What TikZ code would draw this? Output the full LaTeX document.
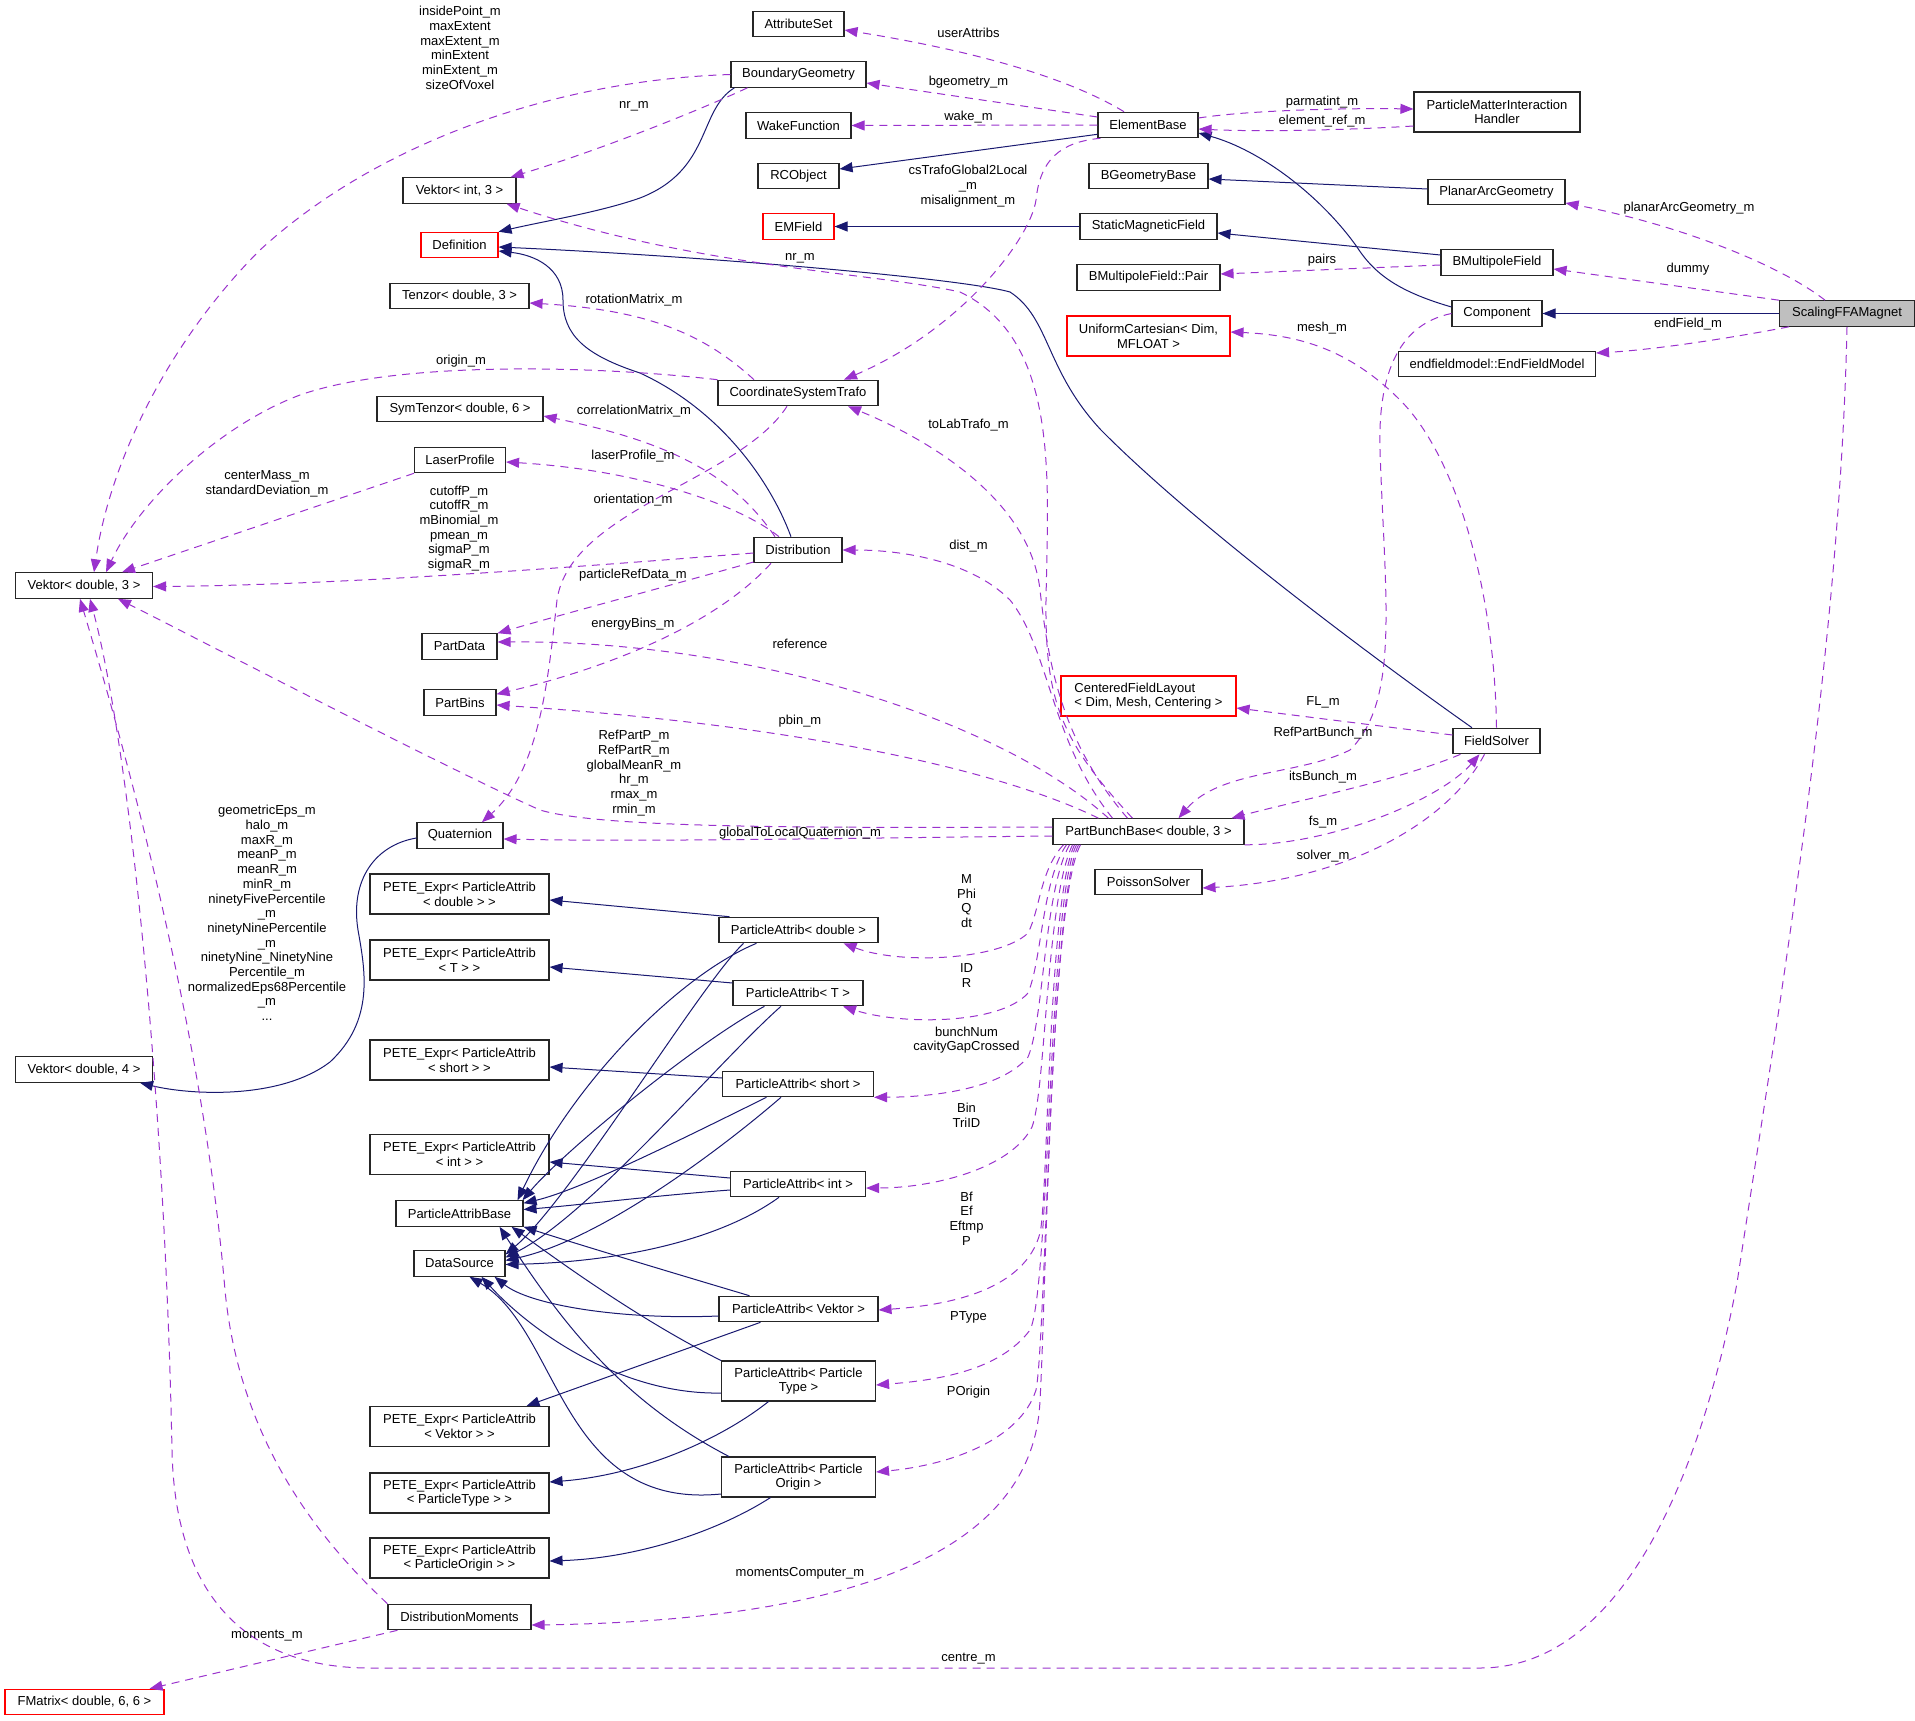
\documentclass[tikz,border=0pt]{standalone}
\usepackage{fontspec}
\setmainfont{Liberation Sans}
\usetikzlibrary{arrows.meta}
\definecolor{usepurple}{HTML}{9A32CD}
\definecolor{inheritblue}{HTML}{191970}
\definecolor{maingrey}{HTML}{BFBFBF}

\begin{document}
\begin{tikzpicture}[
  x=1pt, y=-1pt,
  >={Triangle[length=13pt,width=10pt]},
  font=\fontsize{13}{14.7}\selectfont,
  cls/.style={draw=black!85, fill=white, line width=1.1pt, minimum height=25.5pt, inner xsep=3pt, inner ysep=2pt},
  clstwo/.style={cls, align=center, minimum height=40pt},
  clsred/.style={cls, draw=red},
  clsredtwo/.style={clsred, minimum height=40pt},
  clsmain/.style={cls, fill=maingrey},
  uses/.style={->, draw=usepurple, line width=1pt, dash pattern=on 8pt off 6pt},
  inherit/.style={->, draw=inheritblue, line width=1pt},
  lbl/.style={align=center, inner sep=0pt}
]
\useasboundingbox (0,0) rectangle (1915,1721);

\node[cls, minimum width=113pt] (vecint) at (459.5,190.5) {Vektor< int, 3 >};
\node[clsred, minimum width=77pt] (definition) at (459.5,245) {Definition};
\node[cls, minimum width=139pt] (tenzor) at (459.5,296) {Tenzor< double, 3 >};
\node[cls, minimum width=166pt] (symtenzor) at (460,409) {SymTenzor< double, 6 >};
\node[cls, minimum width=91pt] (laserprofile) at (460,460) {LaserProfile};
\node[cls, minimum width=75pt] (partdata) at (459.5,646.5) {PartData};
\node[cls, minimum width=72pt] (partbins) at (460,702.5) {PartBins};
\node[cls, minimum width=86pt] (quaternion) at (460,835.5) {Quaternion};
\node[clstwo, minimum width=179pt] (petedouble) at (459.5,894) {PETE\_Expr< ParticleAttrib\\< double > >};
\node[clstwo, minimum width=179pt] (petet) at (459.5,960) {PETE\_Expr< ParticleAttrib\\< T > >};
\node[clstwo, minimum width=179pt] (peteshort) at (459.5,1060) {PETE\_Expr< ParticleAttrib\\< short > >};
\node[clstwo, minimum width=179pt] (peteint) at (459.5,1154.5) {PETE\_Expr< ParticleAttrib\\< int > >};
\node[cls, minimum width=127pt] (attribbase) at (459.5,1213.5) {ParticleAttribBase};
\node[cls, minimum width=91pt] (datasource) at (459.5,1263.5) {DataSource};
\node[clstwo, minimum width=179pt] (petevektor) at (459.5,1426.5) {PETE\_Expr< ParticleAttrib\\< Vektor > >};
\node[clstwo, minimum width=179pt] (petetype) at (459.5,1493) {PETE\_Expr< ParticleAttrib\\< ParticleType > >};
\node[clstwo, minimum width=179pt] (peteorigin) at (459.5,1558) {PETE\_Expr< ParticleAttrib\\< ParticleOrigin > >};
\node[cls, minimum width=143pt] (distmoments) at (459.5,1617) {DistributionMoments};

\node[cls, minimum width=137pt] (vekdthree) at (84,585.5) {Vektor< double, 3 >};
\node[cls, minimum width=137pt] (vekdfour) at (84,1069.5) {Vektor< double, 4 >};
\node[clsred, minimum width=159pt] (fmatrix) at (84.5,1702) {FMatrix< double, 6, 6 >};

\node[cls, minimum width=91pt] (attributeset) at (798.5,24) {AttributeSet};
\node[cls, minimum width=135pt] (boundarygeom) at (798.5,74.5) {BoundaryGeometry};
\node[cls, minimum width=105pt] (wakefunction) at (798.5,125.5) {WakeFunction};
\node[cls, minimum width=81pt] (rcobject) at (798.5,176) {RCObject};
\node[clsred, minimum width=71pt] (emfield) at (798.5,226.5) {EMField};
\node[cls, minimum width=160pt] (cstrafo) at (798,393) {CoordinateSystemTrafo};
\node[cls, minimum width=88pt] (distribution) at (798,550) {Distribution};
\node[cls, minimum width=159pt] (padouble) at (798.5,930) {ParticleAttrib< double >};
\node[cls, minimum width=130pt] (pat) at (798,993) {ParticleAttrib< T >};
\node[cls, minimum width=151pt] (pashort) at (798,1084) {ParticleAttrib< short >};
\node[cls, minimum width=135pt] (paint) at (798,1184) {ParticleAttrib< int >};
\node[cls, minimum width=159pt] (pavektor) at (798.5,1309) {ParticleAttrib< Vektor >};
\node[clstwo, minimum width=154pt] (patype) at (798.5,1381) {ParticleAttrib< Particle\\Type >};
\node[clstwo, minimum width=154pt] (paorigin) at (798.5,1477) {ParticleAttrib< Particle\\Origin >};

\node[cls, minimum width=100pt] (elementbase) at (1148,125) {ElementBase};
\node[cls, minimum width=119pt] (bgeombase) at (1148.5,176) {BGeometryBase};
\node[cls, minimum width=137pt] (staticmag) at (1148.5,226.5) {StaticMagneticField};
\node[cls, minimum width=143pt] (bmpair) at (1148.5,277.5) {BMultipoleField::Pair};
\node[clsredtwo, align=center, minimum width=163pt] (unicart) at (1148.5,336) {UniformCartesian< Dim,\\MFLOAT >};
\node[clsredtwo, align=left, minimum width=175pt] (cfl) at (1148.5,696) {CenteredFieldLayout\\< Dim, Mesh, Centering >};
\node[cls, minimum width=191pt] (partbunch) at (1148.5,831.5) {PartBunchBase< double, 3 >};
\node[cls, minimum width=107pt] (poisson) at (1148.5,882) {PoissonSolver};

\node[clstwo, minimum width=166pt] (pmih) at (1497,112) {ParticleMatterInteraction\\Handler};
\node[cls, minimum width=137pt] (planararc) at (1496.5,192) {PlanarArcGeometry};
\node[cls, minimum width=112pt] (bmultipole) at (1497,262.5) {BMultipoleField};
\node[cls, minimum width=90pt] (component) at (1497,313.5) {Component};
\node[cls, minimum width=197pt] (endfield) at (1497,364) {endfieldmodel::EndFieldModel};
\node[cls, minimum width=87pt] (fieldsolver) at (1496.5,741) {FieldSolver};
\node[clsmain, minimum width=135pt] (magnet) at (1847,313.5) {ScalingFFAMagnet};

\draw[inherit] ([xshift=4pt]boundarygeom.south west) .. controls (698,110) and (712,170) .. (640,198) .. controls (600,212) and (550,220) .. (definition.north east);
\draw[inherit] ([yshift=4pt]elementbase.south west) -- ([yshift=7pt]rcobject.east);
\draw[inherit] ([yshift=3pt]planararc.west) -- ([yshift=-3pt]bgeombase.east);
\draw[inherit] (staticmag.west) -- (emfield.east);
\draw[inherit] ([yshift=7.5pt]bmultipole.west) -- ([yshift=-6.5pt]staticmag.east);
\draw[inherit] ([yshift=6.5pt]component.west) .. controls (1400,292) and (1375,275) .. (1357,247) .. controls (1320,195) and (1260,150) .. ([yshift=-8pt]elementbase.east);
\draw[inherit] (magnet.west) -- (component.east);
\draw[inherit] ([xshift=-24.5pt]fieldsolver.north) .. controls (1390,670) and (1200,530) .. (1101,430) .. controls (1045,370) and (1050,318) .. (1010,292) .. controls (960,278) and (700,256) .. ([yshift=-2pt]definition.east);
\draw[inherit] ([xshift=-7pt]distribution.north) .. controls (770,480) and (720,410) .. (640,373) .. controls (585,355) and (563,335) .. (563,300) .. controls (563,268) and (535,255) .. ([yshift=-6pt]definition.east);
\draw[inherit] ([yshift=-2.5pt]quaternion.west) .. controls (375,845) and (350,880) .. (358,930) .. controls (365,970) and (375,1020) .. (330,1062) .. controls (280,1100) and (190,1095) .. ([xshift=-13pt]vekdfour.south east);

\draw[inherit] ([xshift=11pt]padouble.north west) -- ([yshift=-6pt]petedouble.east);
\draw[inherit] ([xshift=-42pt]padouble.south) .. controls (680,975) and (575,1080) .. ([xshift=-6pt]attribbase.north east);
\draw[inherit] ([xshift=-55pt]padouble.south) .. controls (700,985) and (570,1200) .. ([yshift=9pt]datasource.east);
\draw[inherit] ([yshift=10pt]pat.west) -- ([yshift=-7pt]petet.east);
\draw[inherit] ([xshift=-33.5pt]pat.south) .. controls (700,1040) and (565,1150) .. ([xshift=-1pt]attribbase.north east);
\draw[inherit] ([xshift=-17pt]pat.south) .. controls (720,1060) and (590,1215) .. ([yshift=6pt]datasource.east);
\draw[inherit] ([yshift=6pt]pashort.west) -- ([yshift=-7pt]peteshort.east);
\draw[inherit] ([xshift=-31.5pt]pashort.south) .. controls (680,1140) and (580,1190) .. ([yshift=-3pt]attribbase.north east);
\draw[inherit] ([xshift=-17pt]pashort.south) .. controls (720,1150) and (600,1240) .. ([yshift=3pt]datasource.east);
\draw[inherit] ([yshift=6pt]paint.west) -- ([yshift=-7.5pt]peteint.east);
\draw[inherit] ([yshift=-6pt]paint.west) .. controls (650,1196) and (580,1205) .. ([yshift=4pt]attribbase.east);
\draw[inherit] ([xshift=-19pt]paint.south) .. controls (720,1240) and (620,1262) .. ([yshift=-1pt]datasource.east);
\draw[inherit] ([xshift=-38pt]pavektor.south) -- ([xshift=-23pt]petevektor.north east);
\draw[inherit] ([yshift=-7pt]pavektor.west) .. controls (620,1320) and (530,1305) .. ([xshift=-11pt]datasource.south east);
\draw[inherit] ([xshift=31pt]pavektor.north west) .. controls (680,1275) and (580,1245) .. (attribbase.south east);
\draw[inherit] ([xshift=-30pt]patype.south) .. controls (720,1440) and (640,1475) .. ([yshift=11pt]petetype.east);
\draw[inherit] (patype.north west) .. controls (640,1320) and (560,1262) .. ([xshift=-12pt]attribbase.south east);
\draw[inherit] ([yshift=-12pt]patype.west) .. controls (620,1395) and (530,1330) .. ([xshift=-24pt]datasource.south east);
\draw[inherit] ([xshift=-28pt]paorigin.south) .. controls (720,1530) and (640,1558) .. ([yshift=-3pt]peteorigin.east);
\draw[inherit] ([xshift=8pt]paorigin.north west) .. controls (620,1400) and (560,1320) .. ([xshift=-24pt]attribbase.south east);
\draw[inherit] ([yshift=-17pt]paorigin.west) .. controls (560,1510) and (560,1330) .. ([xshift=-36pt]datasource.south east);

\draw[uses] ([xshift=-24pt]elementbase.north) .. controls (1080,85) and (1000,55) .. ([yshift=-6pt]attributeset.east);
\draw[uses] ([yshift=8pt]elementbase.west) -- ([yshift=-8.5pt]boundarygeom.east);
\draw[uses] (elementbase.west) -- (wakefunction.east);
\draw[uses] ([yshift=7pt]elementbase.east) .. controls (1250,110) and (1350,108) .. ([yshift=3pt]pmih.west);
\draw[uses] ([yshift=-14pt]pmih.west) .. controls (1350,130) and (1260,132) .. ([yshift=-4pt]elementbase.east);
\draw[uses] ([xshift=3pt]elementbase.south west) .. controls (1060,142) and (1040,160) .. (1036,200) .. controls (1030,240) and (960,330) .. ([xshift=46pt]cstrafo.north);
\draw[uses] ([xshift=17pt]boundarygeom.south west) .. controls (700,110) and (600,150) .. ([xshift=-6pt]vecint.north east);
\draw[uses] (boundarygeom.west) .. controls (560,80) and (380,140) .. (260,250) .. controls (170,340) and (110,460) .. ([xshift=10pt]vekdthree.north);
\draw[uses] (cstrafo.north west) .. controls (600,366) and (400,360) .. (300,395) .. controls (220,425) and (140,500) .. ([xshift=22pt]vekdthree.north);
\draw[uses] ([xshift=-44pt]cstrafo.north) .. controls (705,335) and (650,310) .. ([yshift=-7pt]tenzor.east);
\draw[uses] ([xshift=-11pt]cstrafo.south) .. controls (740,480) and (570,510) .. (557,600) .. controls (548,680) and (540,770) .. ([xshift=22pt]quaternion.north);
\draw[uses] ([xshift=-23pt]distribution.north) .. controls (730,470) and (660,440) .. ([yshift=-7pt]symtenzor.east);
\draw[uses] ([xshift=-19pt]distribution.north) .. controls (740,505) and (640,470) .. ([yshift=-2pt]laserprofile.east);
\draw[uses] ([yshift=-3pt]distribution.west) .. controls (600,565) and (350,585) .. ([yshift=-1pt]vekdthree.east);
\draw[uses] ([yshift=-12pt]distribution.west) .. controls (690,580) and (560,615) .. (partdata.north east);
\draw[uses] ([xshift=-27pt]distribution.south) .. controls (720,620) and (620,665) .. ([yshift=-5pt]partbins.north east);
\draw[uses] (laserprofile.south west) -- ([xshift=38pt]vekdthree.north);
\draw[uses] ([xshift=-36pt]partbunch.north) .. controls (1050,740) and (1050,650) .. (1010,600) .. controls (970,560) and (900,550) .. (distribution.east);
\draw[uses] ([xshift=-40pt]partbunch.north) .. controls (1000,720) and (750,640) .. ([yshift=4.5pt]partdata.east);
\draw[uses] ([xshift=-50pt]partbunch.north) .. controls (1000,770) and (800,725) .. ([yshift=-2.5pt]partbins.east);
\draw[uses] ([yshift=4.5pt]partbunch.west) .. controls (800,828) and (600,828) .. (540,810) .. controls (450,770) and (200,640) .. ([xshift=34pt]vekdthree.south);
\draw[uses] ([yshift=-4.5pt]partbunch.west) .. controls (850,838) and (650,842) .. ([yshift=-3.5pt]quaternion.east);
\draw[uses] ([xshift=-21pt]partbunch.north) .. controls (1060,740) and (1048,660) .. (1040,590) .. controls (1030,500) and (930,440) .. ([xshift=50pt]cstrafo.south);
\draw[uses] ([xshift=-16pt]partbunch.north) .. controls (1060,740) and (1045,700) .. (1046,600) .. controls (1048,480) and (1060,340) .. (960,292) .. controls (870,272) and (700,268) .. ([xshift=-10pt]vecint.south east);
\draw[uses] (component.west) .. controls (1395,325) and (1378,380) .. (1380,450) .. controls (1385,600) and (1400,700) .. (1350,750) .. controls (1300,775) and (1220,770) .. ([xshift=30pt]partbunch.north);
\draw[uses] ([xshift=-36pt]fieldsolver.south) .. controls (1400,780) and (1300,800) .. ([xshift=83pt]partbunch.north);
\draw[uses] (partbunch.south east) .. controls (1330,845) and (1440,800) .. ([xshift=-17pt]fieldsolver.south);
\draw[uses] ([xshift=-12pt]fieldsolver.south) .. controls (1450,820) and (1350,880) .. ([yshift=-6pt]poisson.east);
\draw[uses] ([yshift=6pt]fieldsolver.west) -- ([yshift=-12pt]cfl.east);
\draw[uses] (fieldsolver.north) .. controls (1495,600) and (1460,460) .. (1400,400) .. controls (1350,350) and (1300,335) .. ([yshift=4pt]unicart.east);
\draw[uses] ([yshift=-2.5pt]bmultipole.west) -- ([yshift=3.5pt]bmpair.east);
\draw[uses] ([xshift=-22pt]magnet.north) .. controls (1780,265) and (1680,225) .. ([yshift=-11pt]planararc.east);
\draw[uses] (magnet.north west) -- ([yshift=-6.5pt]bmultipole.east);
\draw[uses] ([xshift=10pt]magnet.south west) .. controls (1720,340) and (1650,350) .. ([yshift=11pt]endfield.east);
\draw[uses] (magnet.south) .. controls (1840,650) and (1780,1000) .. (1737,1283) .. controls (1700,1480) and (1620,1668) .. (1480,1668) -- (370,1668) .. controls (250,1668) and (175,1600) .. (172,1450) .. controls (165,1100) and (130,750) .. ([xshift=6pt]vekdthree.south);
\draw[uses] (distmoments.north west) .. controls (330,1550) and (240,1450) .. (225,1290) .. controls (200,1000) and (110,700) .. ([xshift=-4pt]vekdthree.south);
\draw[uses] ([xshift=10pt]distmoments.south west) -- ([xshift=-15pt]fmatrix.north east);

\draw[uses] ([xshift=-85pt]partbunch.south) .. controls (1040,870) and (1040,910) .. (1028,933) .. controls (1000,960) and (900,965) .. ([xshift=45pt]padouble.south);
\draw[uses] ([xshift=-82pt]partbunch.south) .. controls (1042,880) and (1042,960) .. (1028,993) .. controls (1000,1025) and (900,1025) .. ([xshift=45pt]pat.south);
\draw[uses] ([xshift=-79pt]partbunch.south) .. controls (1044,890) and (1044,1020) .. (1028,1057) .. controls (1000,1090) and (930,1097) .. (pashort.south east);
\draw[uses] ([xshift=-76pt]partbunch.south) .. controls (1046,900) and (1046,1090) .. (1032,1127) .. controls (1010,1170) and (930,1188) .. ([yshift=-4pt]paint.east);
\draw[uses] ([xshift=-74pt]partbunch.south) .. controls (1048,900) and (1048,1200) .. (1040,1233) .. controls (1025,1290) and (950,1305) .. ([yshift=-1pt]pavektor.east);
\draw[uses] ([xshift=-72pt]partbunch.south) .. controls (1048,900) and (1050,1290) .. (1030,1330) .. controls (1000,1370) and (940,1380) .. ([yshift=-4pt]patype.east);
\draw[uses] ([xshift=-70pt]partbunch.south) .. controls (1050,900) and (1046,1340) .. (1036,1390) .. controls (1020,1440) and (950,1465) .. ([yshift=5pt]paorigin.east);
\draw[uses] ([xshift=-68pt]partbunch.south) .. controls (1050,900) and (1046,1300) .. (1040,1400) .. controls (1035,1530) and (900,1620) .. ([yshift=-8pt]distmoments.east);

\node[lbl] (linside) at (460,48) {insidePoint\_m\\maxExtent\\maxExtent\_m\\minExtent\\minExtent\_m\\sizeOfVoxel};
\node[lbl] (lnrone) at (634,106) {nr\_m};
\node[lbl] (luserattribs) at (968.5,33) {userAttribs};
\node[lbl] (lbgeometry) at (968.5,82) {bgeometry\_m};
\node[lbl] (lwake) at (968.5,117) {wake\_m};
\node[lbl] (lparmatint) at (1322,102) {parmatint\_m};
\node[lbl] (lelementref) at (1322,121) {element\_ref\_m};
\node[lbl] (lcstrafo) at (968,186) {csTrafoGlobal2Local\\\_m\\misalignment\_m};
\node[lbl] (lplanararc) at (1689,208) {planarArcGeometry\_m};
\node[lbl] (ldummy) at (1688,269) {dummy};
\node[lbl] (lendfield) at (1688,324) {endField\_m};
\node[lbl] (lpairs) at (1322,260) {pairs};
\node[lbl] (lmesh) at (1322,328) {mesh\_m};
\node[lbl] (lnrtwo) at (800,258) {nr\_m};
\node[lbl] (lrotation) at (634,300) {rotationMatrix\_m};
\node[lbl] (lorigin) at (461,361) {origin\_m};
\node[lbl] (lcorrelation) at (634,411) {correlationMatrix\_m};
\node[lbl] (ltolab) at (968.5,425) {toLabTrafo\_m};
\node[lbl] (llaser) at (633,456) {laserProfile\_m};
\node[lbl] (lcentermass) at (267,484) {centerMass\_m\\standardDeviation\_m};
\node[lbl] (lorientation) at (633,500) {orientation\_m};
\node[lbl] (lcutoff) at (459,528.5) {cutoffP\_m\\cutoffR\_m\\mBinomial\_m\\pmean\_m\\sigmaP\_m\\sigmaR\_m};
\node[lbl] (ldist) at (968.5,546) {dist\_m};
\node[lbl] (lpartref) at (633,575.5) {particleRefData\_m};
\node[lbl] (lenergy) at (633,624) {energyBins\_m};
\node[lbl] (lreference) at (800,644) {reference};
\node[lbl] (lfl) at (1323,702) {FL\_m};
\node[lbl] (lpbin) at (800,721) {pbin\_m};
\node[lbl] (lrefpartbunch) at (1323,733) {RefPartBunch\_m};
\node[lbl] (lrefpart) at (634,773) {RefPartP\_m\\RefPartR\_m\\globalMeanR\_m\\hr\_m\\rmax\_m\\rmin\_m};
\node[lbl] (litsbunch) at (1323,777) {itsBunch\_m};
\node[lbl] (lfs) at (1323,822) {fs\_m};
\node[lbl] (lglobalq) at (800,833) {globalToLocalQuaternion\_m};
\node[lbl] (lsolver) at (1323,856) {solver\_m};
\node[lbl] (lmphi) at (966.5,901) {M\\Phi\\Q\\dt};
\node[lbl] (lidr) at (966.5,975.5) {ID\\R};
\node[lbl] (lbunchnum) at (966.5,1040) {bunchNum\\cavityGapCrossed};
\node[lbl] (lbin) at (966.5,1115.5) {Bin\\TriID};
\node[lbl] (lbf) at (966.5,1218.5) {Bf\\Ef\\Eftmp\\P};
\node[lbl] (lgeometric) at (267,913) {geometricEps\_m\\halo\_m\\maxR\_m\\meanP\_m\\meanR\_m\\minR\_m\\ninetyFivePercentile\\\_m\\ninetyNinePercentile\\\_m\\ninetyNine\_NinetyNine\\Percentile\_m\\normalizedEps68Percentile\\\_m\\...};
\node[lbl] (lptype) at (968.5,1317) {PType};
\node[lbl] (lporigin) at (968.5,1392) {POrigin};
\node[lbl] (lmomcomp) at (800,1573) {momentsComputer\_m};
\node[lbl] (lmoments) at (267,1636) {moments\_m};
\node[lbl] (lcentre) at (968.5,1659) {centre\_m};
\end{tikzpicture}
\end{document}
